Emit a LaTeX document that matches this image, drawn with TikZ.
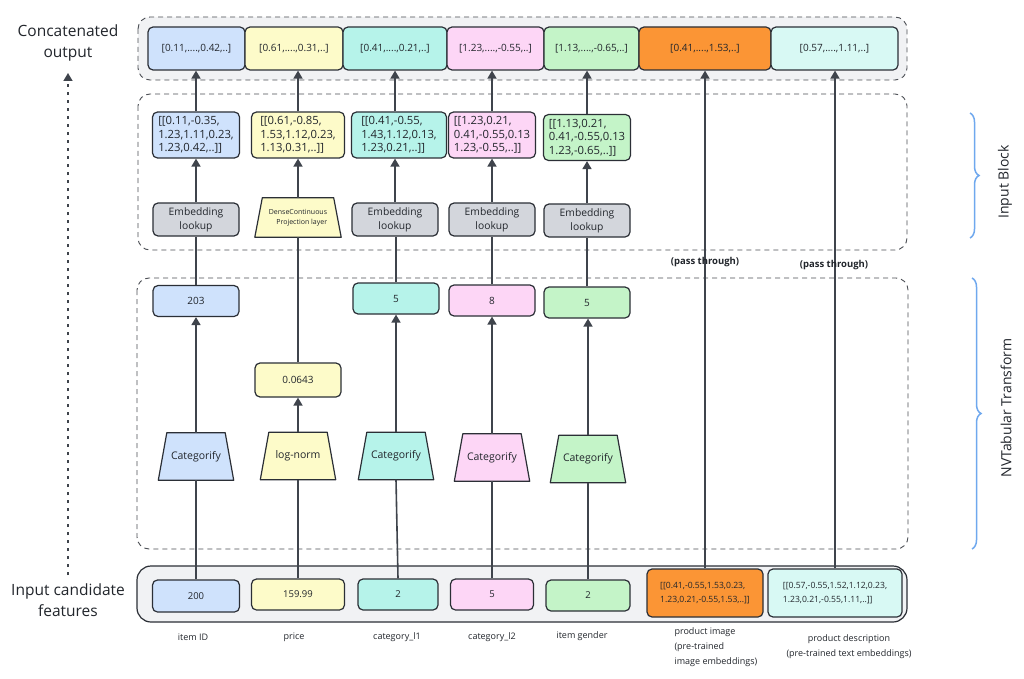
\documentclass[tikz,border=0pt]{standalone}
\usepackage{fontspec}
\setmainfont{Open Sans}
\usetikzlibrary{arrows.meta,decorations.pathreplacing}
\definecolor{cblue}{HTML}{CFE2FC}
\definecolor{cyel}{HTML}{FDFBC9}
\definecolor{ccyan}{HTML}{B6F3EA}
\definecolor{cpink}{HTML}{FDD6F6}
\definecolor{cgreen}{HTML}{C4F4C8}
\definecolor{corange}{HTML}{FB9535}
\definecolor{clcyan}{HTML}{D8F9F4}
\definecolor{cgray}{HTML}{D3D6DC}
\definecolor{cpanel}{HTML}{F1F2F4}
\definecolor{cline}{HTML}{3F444C}
\definecolor{cborder}{HTML}{2B2F36}
\definecolor{cbrace}{HTML}{6FA8EE}
\definecolor{ctext}{HTML}{22262C}
\pgfdeclarelayer{bg}
\pgfsetlayers{bg,main}
\newcommand\trapdraw[3]{%
  \begin{pgfonlayer}{bg}
  \draw[draw=cborder, line width=1.2pt, fill=#2, line join=round] (#1.south west) -- (#1.south east) -- ([xshift=-#3]#1.north east) -- ([xshift=#3]#1.north west) -- cycle;
  \end{pgfonlayer}}
\tikzset{
  box/.style={draw=cborder, line width=1.2pt, rounded corners=5pt, inner sep=1pt, align=center, text=ctext, font=\fontsize{10}{12}\selectfont},
  vecbox/.style={box, align=left, inner sep=0.5pt, font=\fontsize{11.3}{13.3}\selectfont, minimum width=87, minimum height=46},
  lookbox/.style={box, fill=cgray, font=\fontsize{10.3}{14}\selectfont, minimum width=86, minimum height=33},
  valbox/.style={box, font=\fontsize{10}{12}\selectfont, minimum width=86, minimum height=31},
  inbox/.style={box, font=\fontsize{9.5}{12}\selectfont, minimum height=32},
  trapnode/.style={inner sep=0pt, text=ctext, font=\fontsize{10.5}{12}\selectfont, minimum width=75, minimum height=47},
  panel/.style={draw=cborder!85, line width=0.9pt, dash pattern=on 5pt off 4pt, rounded corners=12pt},
  ln/.style={draw=cline, line width=1.6pt},
  arr/.style={ln, -{Triangle[length=8pt,width=9pt]}},
  brc/.style={draw=cbrace, line width=1.5pt, decorate, decoration={brace, amplitude=9pt}},
  side/.style={text=ctext, font=\fontsize{14}{18}\selectfont, rotate=90},
  lbl/.style={text=ctext, font=\fontsize{9}{15}\selectfont, align=center},
  big/.style={text=ctext, font=\fontsize{15.5}{20.5}\selectfont, align=center},
  pass/.style={text=ctext, font=\bfseries\fontsize{9.5}{11}\selectfont}
}
\begin{document}
\begin{tikzpicture}[x=1pt,y=-1pt]
\useasboundingbox (0,0) rectangle (1024,679);
\begin{pgfonlayer}{bg}
\fill[white] (0,0) rectangle (1024,679);
\end{pgfonlayer}

% containers
\draw[panel, fill=cpanel] (138,17) rectangle (907,80);
\draw[panel] (138,94) rectangle (907,250);
\draw[panel] (137,278) rectangle (908,549);
\draw[draw=cborder, line width=1.2pt, fill=cpanel, rounded corners=14pt] (137,566) rectangle (907,622);

% top row
\node[box, fill=cblue, minimum width=97, minimum height=43] (t1) at (196.5,48.5) {[0.11,....,0.42,..]};
\node[box, fill=cyel, minimum width=98, minimum height=43] (t2) at (294,48.5) {[0.61,....,0.31,..]};
\node[box, fill=ccyan, minimum width=104, minimum height=43] (t3) at (395,48.5) {[0.41,....,0.21,..]};
\node[box, fill=cpink, minimum width=97, minimum height=43] (t4) at (495.5,48.5) {[1.23,....,-0.55,..]};
\node[box, fill=cgreen, minimum width=95, minimum height=43] (t5) at (591.5,48.5) {[1.13,....,-0.65,..]};
\node[box, fill=corange, minimum width=132, minimum height=43] (t6) at (705,48.5) {[0.41,....,1.53,..]};
\node[box, fill=clcyan, minimum width=127, minimum height=43] (t7) at (834.5,48.5) {[0.57,....,1.11,..]};

% vector boxes
\node[vecbox, fill=cblue] (v1) at (196,135) {[[0.11,-0.35,\\1.23,1.11,0.23,\\1.23,0.42,..]]};
\node[vecbox, fill=cyel, minimum width=93] (v2) at (298,135) {[[0.61,-0.85,\\1.53,1.12,0.23,\\1.13,0.31,..]]};
\node[vecbox, fill=ccyan, minimum width=95] (v3) at (399,135) {[[0.41,-0.55,\\1.43,1.12,0.13,\\1.23,0.21,..]]};
\node[vecbox, fill=cpink] (v4) at (492,135) {[[1.23,0.21,\\0.41,-0.55,0.13\\1.23,-0.55,..]]};
\node[vecbox, fill=cgreen] (v5) at (587,137.5) {[[1.13,0.21,\\0.41,-0.55,0.13\\1.23,-0.65,..]]};

% lookups
\node[lookbox] (e1) at (196,219.5) {Embedding\\lookup};
\node[trapnode, minimum width=86, minimum height=39, font=\fontsize{7}{10}\selectfont, align=right] (e2) at (298,217.5) {DenseContinuous\\Projection layer};
\trapdraw{e2}{cyel}{7.5pt}
\node[lookbox] (e3) at (395,219.5) {Embedding\\lookup};
\node[lookbox] (e4) at (492,219.5) {Embedding\\lookup};
\node[lookbox] (e5) at (587,220.5) {Embedding\\lookup};

% NVT values
\node[valbox, fill=cblue] (n1) at (196,301) {203};
\node[valbox, fill=cyel, minimum height=34] (n2) at (298,380) {0.0643};
\node[valbox, fill=ccyan] (n3) at (396,298.5) {5};
\node[valbox, fill=cpink] (n4) at (492,300.5) {8};
\node[valbox, fill=cgreen] (n5) at (587,302.5) {5};

% trapezoids
\node[trapnode] (c1) at (196,456.5) {Categorify};
\trapdraw{c1}{cblue}{8.5pt}
\node[trapnode] (c2) at (298,456) {log-norm};
\trapdraw{c2}{cyel}{8.5pt}
\node[trapnode] (c3) at (396,456) {Categorify};
\trapdraw{c3}{ccyan}{8.5pt}
\node[trapnode] (c4) at (492,457.5) {Categorify};
\trapdraw{c4}{cpink}{8.5pt}
\node[trapnode] (c5) at (588,459) {Categorify};
\trapdraw{c5}{cgreen}{8.5pt}

% inputs
\node[inbox, fill=cblue, minimum width=87] (i1) at (196,596) {200};
\node[inbox, fill=cyel, minimum width=93, minimum height=31] (i2) at (298,594.5) {159.99};
\node[inbox, fill=ccyan, minimum width=80, minimum height=31] (i3) at (398,594.5) {2};
\node[inbox, fill=cpink, minimum width=83, minimum height=31] (i4) at (492,594.5) {5};
\node[inbox, fill=cgreen, minimum width=84, minimum height=31] (i5) at (588,595.5) {2};
\node[box, fill=corange, minimum width=116, minimum height=48, align=left, font=\fontsize{8.6}{14}\selectfont] (i6) at (705,593) {[[0.41,-0.55,1.53,0.23,\\1.23,0.21,-0.55,1.53,..]]};
\node[box, fill=clcyan, minimum width=134, minimum height=48, align=left, font=\fontsize{8.6}{14}\selectfont] (i7) at (835,593) {[[0.57,-0.55,1.52,1.12,0.23,\\1.23,0.21,-0.55,1.11,..]]};

% connectors
\draw[ln] (i1.north) -- (c1.south);
\draw[arr] (c1.north) -- (n1.south);
\draw[ln] (n1.north) -- (e1.south);
\draw[arr] (e1.north) -- (v1.south);
\draw[arr] (v1.north) -- (v1.north |- t1.south);

\draw[ln] (i2.north) -- (c2.south);
\draw[arr] (c2.north) -- (n2.south);
\draw[ln] (n2.north) -- (e2.south);
\draw[arr] (e2.north) -- (v2.south);
\draw[arr] (v2.north) -- (v2.north |- t2.south);

\draw[ln] (i3.north) -- (c3.south);
\draw[arr] (c3.north) -- (n3.south);
\draw[ln] (n3.north) -- (n3.north |- e3.south);
\draw[arr] (e3.north) -- (e3.north |- v3.south);
\draw[arr] (e3.north |- v3.north) -- (e3.north |- t3.south);

\draw[ln] (i4.north) -- (c4.south);
\draw[arr] (c4.north) -- (n4.south);
\draw[ln] (n4.north) -- (e4.south);
\draw[arr] (e4.north) -- (v4.south);
\draw[arr] (v4.north) -- (v4.north |- t4.south);

\draw[ln] (i5.north) -- (c5.south);
\draw[arr] (c5.north) -- (c5.north |- n5.south);
\draw[ln] (n5.north) -- (e5.south);
\draw[arr] (e5.north) -- (v5.south);
\draw[arr] (v5.north) -- (v5.north |- t5.south);

\draw[arr] (i6.north) -- (i6.north |- t6.south);
\draw[arr] (i7.north) -- (i7.north |- t7.south);

\node[pass] (pt1) at (705,262) {(pass through)};
\node[pass] (pt2) at (834,265) {(pass through)};

% left labels
\node[big] (catlbl) at (68,43) {Concatenated\\output};
\node[big] (inlbl) at (68,600) {Input candidate\\features};
\coordinate (dotS) at (68,575);
\coordinate (dotE) at (68,73);
\draw[draw=cline, line width=1.6pt, dash pattern=on 3pt off 5pt, -{Triangle[length=8pt,width=9pt]}] (dotS) -- (dotE);

% bottom labels
\node[lbl] (l1) at (193,637) {item ID};
\node[lbl] (l2) at (294,637) {price};
\node[lbl] (l3) at (397,637) {category\_l1};
\node[lbl] (l4) at (492,637) {category\_l2};
\node[lbl] (l5) at (582,636) {item gender};
\node[lbl, align=left, anchor=west] (l6) at (671,647) {product image\\(pre-trained\\image embeddings)};
\node[lbl] (l7) at (849,646.5) {product description\\(pre-trained text embeddings)};

% braces
\coordinate (b1s) at (970,113);
\coordinate (b1e) at (970,238);
\draw[brc] (b1s) -- (b1e);
\node[side] (sb1) at (1005,182) {Input Block};
\coordinate (b2s) at (972,278);
\coordinate (b2e) at (972,549);
\draw[brc] (b2s) -- (b2e);
\node[side] (sb2) at (1006,408) {NVTabular Transform};
\end{tikzpicture}
\end{document}
